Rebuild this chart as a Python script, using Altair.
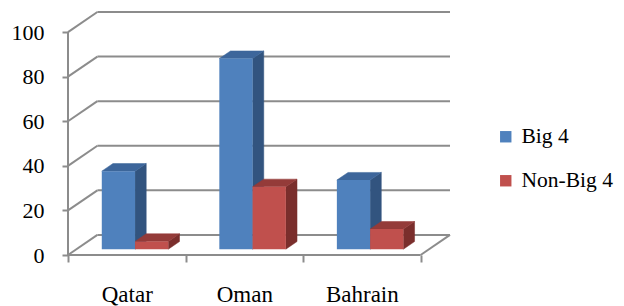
import altair as alt
import pandas as pd

categories = ["Qatar", "Oman", "Bahrain"]
series = ["Big 4", "Non-Big 4"]
big4 = [35, 85.5, 31]
non_big4 = [3.5, 28, 9]
y_ticks = [0, 20, 40, 60, 80, 100]

# oblique projection parameters (data units)
DX = 0.25
DY = 9.0
Z0, Z1 = 0.29, 0.67
BAR_START = 0.215
BW = 0.283

front_colors = ["#4F81BD", "#C0504D"]
top_colors = {"Big 4": "#3D669B", "Non-Big 4": "#943B39"}
side_colors = {"Big 4": "#32547F", "Non-Big 4": "#7A2E2C"}
GRID = "#8c8c8c"
FONT = "Liberation Serif"

front_rows, side_rows, top_rows = [], [], []
for i, cat in enumerate(categories):
    for j, (s, vals) in enumerate(zip(series, [big4, non_big4])):
        v = vals[i]
        x0 = i + BAR_START + j * BW
        x1 = x0 + BW
        bid = f"{cat}-{s}"
        front_rows.append(dict(series=s, category=cat, value=v,
                               x=x0 + Z0 * DX, x2=x1 + Z0 * DX,
                               y=Z0 * DY, y2=Z0 * DY + v))
        for z in (Z0, Z1):
            side_rows.append(dict(series=s, bar=bid, x=x1 + z * DX,
                                  y=z * DY + v, y2=z * DY))
            top_rows.append(dict(series=s, bar=bid, y=z * DY + v,
                                 x=x0 + z * DX, x2=x1 + z * DX))

n = len(categories)
grid_rows = []
for t in y_ticks:
    grid_rows.append(dict(x=DX, x2=n + DX, y=t + DY, y2=t + DY))
    grid_rows.append(dict(x=0, x2=DX, y=t, y2=t + DY))
grid_rows.append(dict(x=0, x2=n, y=0, y2=0))
grid_rows.append(dict(x=n, x2=n + DX, y=0, y2=DY))
grid_rows.append(dict(x=0, x2=0, y=0, y2=max(y_ticks)))

front_df = pd.DataFrame(front_rows)
side_df = pd.DataFrame(side_rows)
top_df = pd.DataFrame(top_rows)
grid_df = pd.DataFrame(grid_rows)

xscale = alt.Scale(domain=[0, n + DX], nice=False, zero=False)
yscale = alt.Scale(domain=[0, max(y_ticks) + DY], nice=False, zero=False)

label_expr = " : ".join(
    [f"datum.value == {i + 0.5} ? '{c}'" for i, c in enumerate(categories)]
) + " : ''"

xaxis = alt.Axis(
    values=[k * 0.5 for k in range(2 * n + 1)],
    labelExpr=label_expr,
    domain=False, grid=False, title=None,
    tickSize=7, tickWidth=2, tickColor=GRID,
    tickOpacity={"condition": {"test": "datum.value % 1 === 0", "value": 1}, "value": 0},
    labelFont=FONT, labelFontSize=23, labelColor="black",
    labelPadding=21, labelOverlap=False, labelBound=False, labelFlush=False,
)
yaxis = alt.Axis(
    values=y_ticks, domain=False, grid=False, title=None,
    tickSize=6, tickWidth=2, tickColor=GRID,
    labelFont=FONT, labelFontSize=22, labelColor="black",
    labelPadding=18, labelOverlap=False, labelBound=False, labelFlush=False,
)

grid = alt.Chart(grid_df).mark_rule(color=GRID, strokeWidth=2).encode(
    x=alt.X("x:Q", scale=xscale, axis=xaxis),
    x2="x2:Q",
    y=alt.Y("y:Q", scale=yscale, axis=yaxis),
    y2="y2:Q",
)


def side_layer(s):
    return alt.Chart(side_df).transform_filter(alt.datum.series == s).mark_area(
        orient="vertical", color=side_colors[s], stroke=side_colors[s], strokeWidth=0.5
    ).encode(
        x=alt.X("x:Q", scale=xscale, axis=xaxis),
        y=alt.Y("y:Q", scale=yscale, axis=yaxis),
        y2="y2:Q",
        detail="bar:N",
    )


def top_layer(s):
    return alt.Chart(top_df).transform_filter(alt.datum.series == s).mark_area(
        orient="horizontal", color=top_colors[s], stroke=top_colors[s], strokeWidth=0.5
    ).encode(
        y=alt.Y("y:Q", scale=yscale, axis=yaxis),
        x=alt.X("x:Q", scale=xscale, axis=xaxis),
        x2="x2:Q",
        detail="bar:N",
    )


def front_layer(s):
    return alt.Chart(front_df).transform_filter(alt.datum.series == s).mark_rect().encode(
        x=alt.X("x:Q", scale=xscale, axis=xaxis),
        x2="x2:Q",
        y=alt.Y("y:Q", scale=yscale, axis=yaxis),
        y2="y2:Q",
        color=alt.Color(
            "series:N",
            scale=alt.Scale(domain=series, range=front_colors),
            legend=alt.Legend(
                title=None, orient="none", legendX=427, legendY=114,
                symbolType="square", symbolSize=130, symbolStrokeWidth=0,
                labelFont=FONT, labelFontSize=21.5, labelColor="black",
                labelOffset=5, rowPadding=21, padding=0, labelLimit=200,
            ),
        ),
    )


chart = alt.layer(
    grid,
    side_layer("Big 4"), top_layer("Big 4"), front_layer("Big 4"),
    side_layer("Non-Big 4"), top_layer("Non-Big 4"), front_layer("Non-Big 4"),
).properties(
    width=382, height=243,
    autosize=alt.AutoSizeParams(type="none"),
    padding={"left": 60, "top": 4, "right": 166, "bottom": 51},
    background="white",
).configure(
    font=FONT
).configure_view(stroke=None)

chart.save("out.html", embed_options={"renderer": "svg", "actions": False})
